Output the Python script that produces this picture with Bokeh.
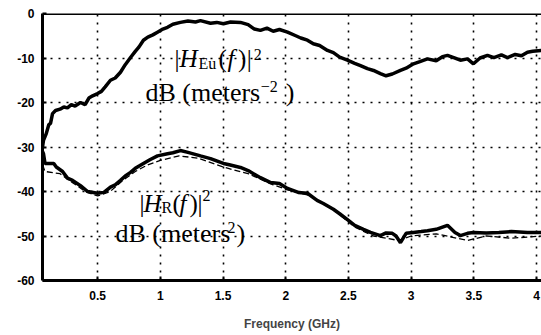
from bokeh.plotting import figure
from bokeh.models import Range1d, FixedTicker, Label, Span
from bokeh.embed import file_html
from bokeh.resources import INLINE

# ---- data ----
eu_freq = [0.06, 0.068, 0.09, 0.11, 0.124, 0.14, 0.164, 0.2, 0.23, 0.259, 0.29, 0.32, 0.363, 0.40, 0.43,
           0.46, 0.499, 0.53, 0.56, 0.602, 0.64, 0.682, 0.72, 0.762, 0.80, 0.83, 0.865, 0.90, 0.94, 0.977,
           1.02, 1.057, 1.10, 1.16, 1.22, 1.28, 1.32, 1.40, 1.45, 1.503, 1.56, 1.639, 1.70, 1.75, 1.798,
           1.85, 1.90, 1.95, 2.014, 2.08, 2.12, 2.173, 2.22, 2.27, 2.333, 2.38, 2.43, 2.492, 2.55, 2.596,
           2.652, 2.70, 2.755, 2.80, 2.85, 2.915, 2.96, 3.019, 3.07, 3.13, 3.2, 3.25, 3.29, 3.34, 3.393,
           3.45, 3.497, 3.55, 3.609, 3.66, 3.72, 3.768, 3.83, 3.88, 3.928, 3.97, 4.04]
eu_db = [-30, -28.5, -27, -25, -24.7, -22.5, -21.8, -21.5, -21, -21.2, -20.5, -20.8, -20, -20.5, -19,
         -18.5, -18, -17.5, -16.5, -15, -14.5, -13.2, -11.5, -9.9, -8.5, -7.5, -6, -5.3, -4.8, -4.2,
         -3.5, -3.1, -2.4, -2, -1.7, -1.9, -1.6, -2.2, -2, -2.3, -1.9, -2, -2.5, -3.5, -3.8,
         -3.3, -4, -3.6, -4.2, -5.0, -5.5, -6, -6.8, -7.2, -8.3, -8.8, -9.8, -10.5, -11.2, -11.7,
         -12.4, -12.8, -13.5, -14, -13.6, -12.8, -12.3, -11.3, -10.8, -10.2, -10.6, -9.7, -9.4, -9.9, -10.5,
         -10.2, -11.3, -10, -9.4, -9.9, -9.3, -9.9, -9.2, -9.5, -8.7, -8.5, -8.3]

r_freq = [0.06, 0.068, 0.08, 0.15, 0.17, 0.22, 0.259, 0.30, 0.363, 0.42, 0.499, 0.55, 0.602, 0.64, 0.682,
          0.72, 0.762, 0.80, 0.865, 0.92, 0.977, 1.057, 1.10, 1.16, 1.22, 1.32, 1.40, 1.503, 1.55, 1.639,
          1.70, 1.798, 1.88, 1.95, 2.014, 2.1, 2.173, 2.25, 2.30, 2.38, 2.43, 2.50, 2.55, 2.62, 2.676,
          2.755, 2.80, 2.85, 2.88, 2.915, 2.96, 3.019, 3.08, 3.13, 3.2, 3.29, 3.35, 3.393, 3.45, 3.497,
          3.6, 3.7, 3.8, 3.928, 4.04]
r_db = [-31, -31.5, -33.7, -33.7, -34.5, -35.5, -37, -37.5, -38.7, -40, -40.4, -40.2, -39, -38.5, -37.5,
        -36.5, -35.7, -34.8, -33.7, -32.8, -32, -31.5, -31.3, -30.8, -31.2, -32, -32.6, -33.7, -34, -34.6,
        -35.3, -36.9, -38, -38.2, -39.3, -40.2, -40.4, -42, -42.7, -44, -45, -46.5, -47.6, -48.5, -49.2,
        -49.9, -49.3, -49.4, -50, -51.5, -49.4, -49.2, -49, -48.8, -48.5, -47.6, -49.2, -49.9, -49.4, -49.2,
        -49.3, -49.2, -49, -49.2, -49.2]

r_fit_freq = [0.06, 0.08, 0.2, 0.3, 0.4, 0.5, 0.6, 0.7, 0.8, 0.9, 1.0, 1.15, 1.3, 1.5, 1.7, 1.9, 2.0,
              2.2, 2.4, 2.55, 2.7, 2.8, 2.9, 3.0, 3.2, 3.45, 3.6, 3.8, 4.04]
r_fit_db = [-34, -35.5, -36, -38, -40, -41, -40, -37.5, -35.5, -34, -33, -32, -32.5, -34.5, -36, -38.5,
            -39.5, -41, -44.5, -48, -50, -50.5, -51, -50, -49.5, -51, -50, -50.5, -50]

x_ticks = [0.5, 1, 1.5, 2, 2.5, 3, 3.5, 4]
x_tick_labels = ["0.5", "1", "1.5", "2", "2.5", "3", "3.5", "4"]
y_ticks = [-60, -50, -40, -30, -20, -10, 0]
y_tick_labels = ["-60", "-50", "-40", "-30", "-20", "-10", "0"]

# ---- figure ----
p = figure(width=541, height=335, output_backend="svg", toolbar_location=None,
           x_range=Range1d(0.06, 4.04), y_range=Range1d(-60, 0),
           min_border_left=42, min_border_right=0, min_border_top=13, min_border_bottom=55,
           background_fill_color="white", border_fill_color="white")
p.outline_line_color = None

for ax, ticks, labels in ((p.xaxis[0], x_ticks, x_tick_labels), (p.yaxis[0], y_ticks, y_tick_labels)):
    ax.ticker = FixedTicker(ticks=ticks)
    ax.major_label_overrides = dict(zip(ticks, labels))
    ax.axis_line_width = 3
    ax.axis_line_color = "black"
    ax.major_tick_in = 4
    ax.major_tick_out = 0
    ax.major_tick_line_width = 2
    ax.minor_tick_line_color = None
    ax.major_label_text_font = "Liberation Sans"
    ax.major_label_text_font_style = "bold"
    ax.major_label_text_font_size = "12px"
    ax.major_label_text_color = "black"

p.yaxis[0].major_label_standoff = 8
p.xaxis[0].major_label_standoff = 10
p.xaxis[0].axis_label = "Frequency (GHz)"
p.xaxis[0].axis_label_text_font = "Liberation Sans"
p.xaxis[0].axis_label_text_font_style = "bold"
p.xaxis[0].axis_label_text_font_size = "12px"
p.xaxis[0].axis_label_standoff = 14

p.add_layout(Span(location=0, dimension="width", line_color="black", line_width=3))

for g, ticks in ((p.xgrid[0], x_ticks), (p.ygrid[0], y_ticks)):
    g.ticker = FixedTicker(ticks=ticks)
    g.grid_line_color = "black"
    g.grid_line_dash = "2 6"
    g.grid_line_width = 1.6

p.line(r_fit_freq, r_fit_db, line_color="black", line_width=1.3, line_dash="6 3")
p.line(eu_freq, eu_db, line_color="black", line_width=3.5)
p.line(r_freq, r_db, line_color="black", line_width=3.5)

def lab(x, y, t, size, style="normal"):
    p.add_layout(Label(x=x, y=y, text=t, text_font="Liberation Serif", text_font_size=f"{size}px",
                       text_font_style=style, text_color="black", text_baseline="alphabetic",
                       background_fill_color=None))

# upper annotation |H_Eu(f)|^2  dB (meters^-2)
lab(1.113, -10.11, "|", 25)
lab(1.153, -10.11, "H", 25, "italic")
lab(1.304, -11.24, "Eu", 16)
lab(1.464, -10.11, "(", 25)
lab(1.535, -10.11, "f", 25, "italic")
lab(1.62, -10.11, ")", 25)
lab(1.69, -10.11, "|", 25)
lab(1.745, -9.21, "2", 16)
lab(0.881, -17.75, "dB (meters", 26)
lab(1.80, -16.4, "\u22122", 16)
lab(2.0, -17.75, ")", 26)

# lower annotation |H_R(f)|^2  dB (meters^2)
lab(0.834, -42.70, "|", 25)
lab(0.865, -42.70, "H", 25, "italic")
lab(1.009, -43.6, "R", 16)
lab(1.097, -42.70, "(", 25)
lab(1.153, -42.70, "f", 25, "italic")
lab(1.232, -42.70, ")", 25)
lab(1.296, -42.70, "|", 25)
lab(1.336, -40.9, "2", 16)
lab(0.642, -49.44, "dB (meters", 26)
lab(1.535, -48.1, "2", 16)
lab(1.607, -49.44, ")", 26)

open("out.html", "w").write(file_html(p, INLINE))
